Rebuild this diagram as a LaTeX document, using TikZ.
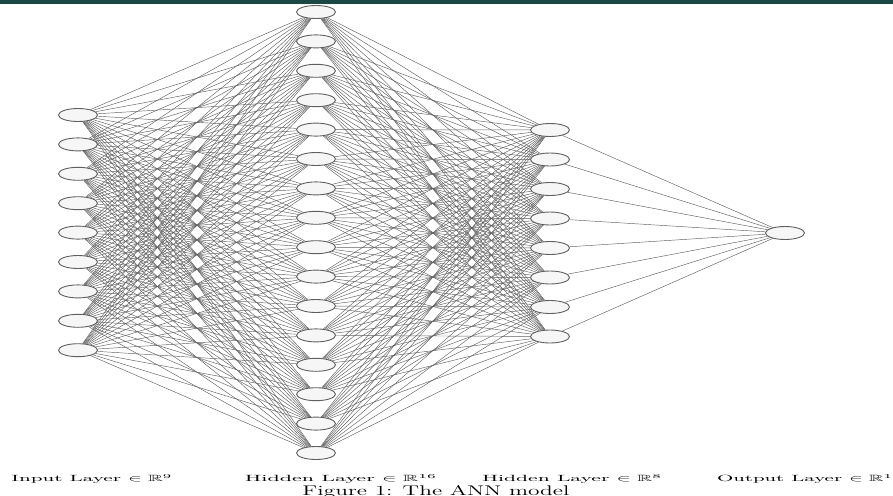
\documentclass[tikz,border=0pt]{standalone}
\usepackage{amssymb}
\usepackage{graphicx}
\definecolor{barcol}{RGB}{28,72,68}
\definecolor{edgecol}{RGB}{95,95,95}
\definecolor{nodedraw}{RGB}{95,95,95}
\definecolor{nodefill}{RGB}{246,246,246}
\tikzset{
  neuron/.style={ellipse,draw=nodedraw,fill=nodefill,line width=0.9pt,minimum width=39pt,minimum height=13pt,inner sep=0pt},
  conn/.style={draw=edgecol,line width=0.45pt},
  layerlabel/.style={inner sep=0pt,font=\fontsize{9}{10}\selectfont},
  captext/.style={inner sep=0pt,anchor=north,font=\fontsize{14}{16}\selectfont}
}
\usetikzlibrary{shapes.geometric}
\begin{document}
\begin{tikzpicture}[x=1pt,y=-1pt]
\useasboundingbox (0,0) rectangle (893,495);
\fill[barcol] (0,0) rectangle (893,4);
% input layer
\foreach \i in {1,...,9}{
  \node[neuron] (in\i) at (78,{115+29.4*(\i-1)}) {};
}
% hidden layer 1
\foreach \i in {1,...,16}{
  \node[neuron] (ha\i) at (316,{12+29.4*(\i-1)}) {};
}
% hidden layer 2
\foreach \i in {1,...,8}{
  \node[neuron] (hb\i) at (550,{130+29.5*(\i-1)}) {};
}
% output
\node[neuron] (out1) at (785,233) {};
% connections
\foreach \i in {1,...,9}{
  \foreach \j in {1,...,16}{
    \draw[conn] (in\i) -- (ha\j);
  }
}
\foreach \i in {1,...,16}{
  \foreach \j in {1,...,8}{
    \draw[conn] (ha\i) -- (hb\j);
  }
}
\foreach \j in {1,...,8}{
  \draw[conn] (hb\j) -- (out1);
}
% labels
\node[layerlabel] (l1) at (92,479) {\resizebox{161pt}{\height}{Input Layer $\in \mathbb{R}^{9}$}};
\node[layerlabel] (l2) at (341,479) {\resizebox{192pt}{\height}{Hidden Layer $\in \mathbb{R}^{16}$}};
\node[layerlabel] (l3) at (572,479) {\resizebox{180pt}{\height}{Hidden Layer $\in \mathbb{R}^{8}$}};
\node[layerlabel] (l4) at (805,479) {\resizebox{176pt}{\height}{Output Layer $\in \mathbb{R}^{1}$}};
\node[captext] (cap) at (436,485.5) {\resizebox{267pt}{\height}{Figure 1: The ANN model}};
\end{tikzpicture}
\end{document}
